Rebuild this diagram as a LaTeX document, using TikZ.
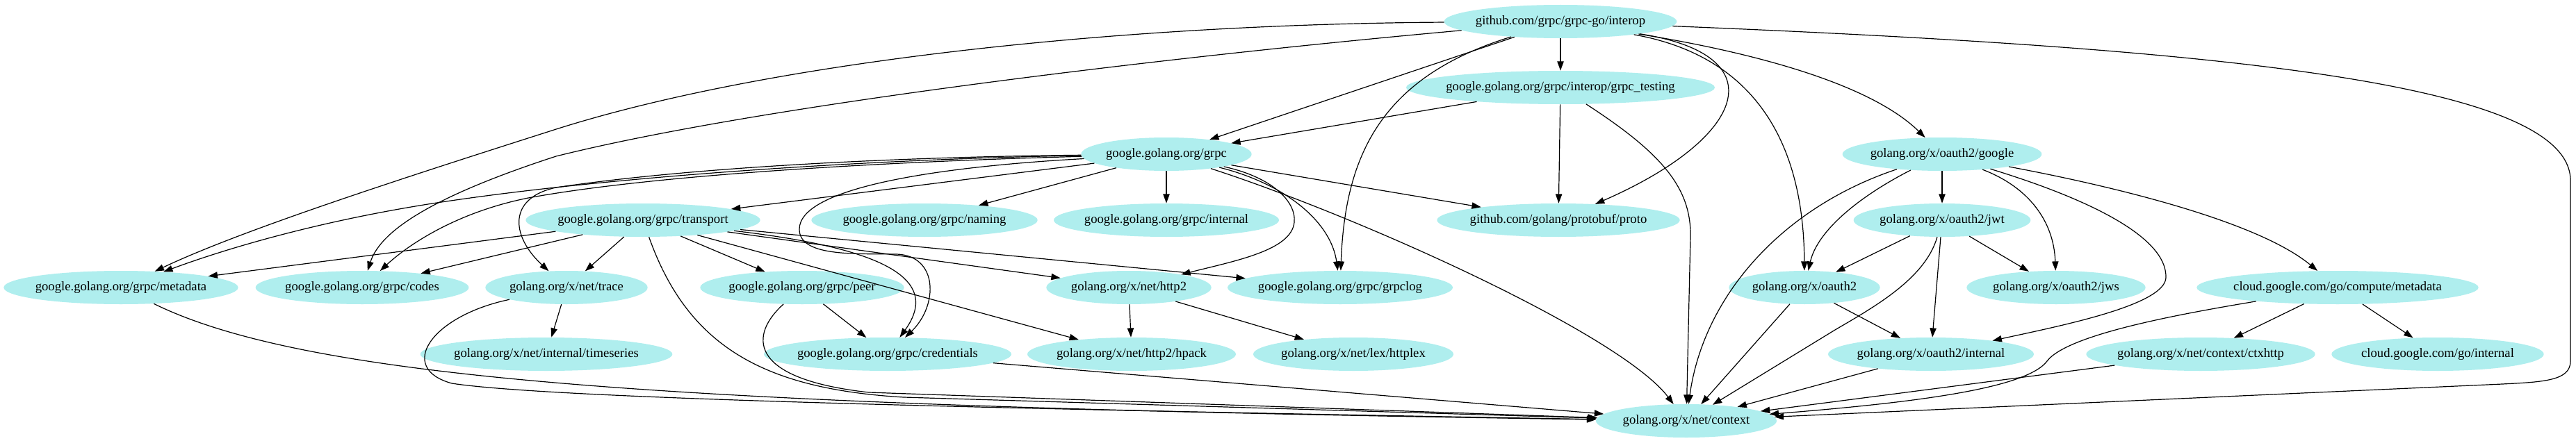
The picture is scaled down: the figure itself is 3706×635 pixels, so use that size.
\documentclass[tikz,border=0pt]{standalone}
\usepackage{fontspec}
\setmainfont{Liberation Serif}
\usetikzlibrary{shapes.geometric,arrows.meta}
\definecolor{pt}{HTML}{AFEEEE}
\begin{document}
\begin{tikzpicture}[x=0.75pt,y=-0.75pt,
  nd/.style={ellipse, fill=pt, inner xsep=-15pt, inner ysep=0pt, minimum height=36pt,
    font=\fontsize{14}{16}\selectfont},
  e/.style={-{Triangle[length=10pt,width=7pt]}, line width=0.9pt}]
\fill[white] (0,0) rectangle (3706,635);
\useasboundingbox (0,0) rectangle (3706,635);

\node[nd, minimum width=251pt] (interop) at (2245,31) {github.com/grpc/grpc-go/interop};
\node[nd, minimum width=333pt] (testing) at (2245,126) {google.golang.org/grpc/interop/grpc\_testing};
\node[nd, minimum width=184pt] (grpc) at (1678,222) {google.golang.org/grpc};
\node[nd, minimum width=215pt] (google) at (2794,222) {golang.org/x/oauth2/google};
\node[nd, minimum width=253pt] (transport) at (925,317) {google.golang.org/grpc/transport};
\node[nd, minimum width=244pt] (naming) at (1330,317) {google.golang.org/grpc/naming};
\node[nd, minimum width=243pt] (internal) at (1678,317) {google.golang.org/grpc/internal};
\node[nd, minimum width=262pt] (proto) at (2242,317) {github.com/golang/protobuf/proto};
\node[nd, minimum width=191pt] (jwt) at (2794,317) {golang.org/x/oauth2/jwt};
\node[nd, minimum width=253pt] (metadata) at (174,414) {google.golang.org/grpc/metadata};
\node[nd, minimum width=230pt] (codes) at (521,414) {google.golang.org/grpc/codes};
\node[nd, minimum width=175pt] (trace) at (815,414) {golang.org/x/net/trace};
\node[nd, minimum width=220pt] (peer) at (1154,414) {google.golang.org/grpc/peer};
\node[nd, minimum width=178pt] (http2) at (1624,414) {golang.org/x/net/http2};
\node[nd, minimum width=243pt] (grpclog) at (1928,414) {google.golang.org/grpc/grpclog};
\node[nd, minimum width=163pt] (oauth2) at (2596,414) {golang.org/x/oauth2};
\node[nd, minimum width=193pt] (jws) at (2958,414) {golang.org/x/oauth2/jws};
\node[nd, minimum width=304pt] (compute) at (3363,414) {cloud.google.com/go/compute/metadata};
\node[nd, minimum width=272pt] (timeseries) at (786,510) {golang.org/x/net/internal/timeseries};
\node[nd, minimum width=267pt] (credentials) at (1277,510) {google.golang.org/grpc/credentials};
\node[nd, minimum width=225pt] (hpack) at (1628,510) {golang.org/x/net/http2/hpack};
\node[nd, minimum width=216pt] (httplex) at (1947,510) {golang.org/x/net/lex/httplex};
\node[nd, minimum width=222pt] (oainternal) at (2778,510) {golang.org/x/oauth2/internal};
\node[nd, minimum width=247pt] (ctxhttp) at (3166,510) {golang.org/x/net/context/ctxhttp};
\node[nd, minimum width=229pt] (cloudinternal) at (3507,510) {cloud.google.com/go/internal};
\node[nd, minimum width=195pt] (context) at (2426,606) {golang.org/x/net/context};

% interop
\draw[e] (interop) -- (testing);
\draw[e] (interop) -- (grpc);
\draw[e] (interop) .. controls (1600,35) and (1100,90) .. (797,187) .. controls (600,250) and (350,330) .. (metadata);
\draw[e] (interop) .. controls (1700,80) and (1100,150) .. (800,225) .. controls (600,290) and (545,340) .. (codes);
\draw[e] (interop) .. controls (1990,110) and (1935,220) .. (grpclog);
\draw[e] (interop) .. controls (2560,80) and (2510,200) .. (proto);
\draw[e] (interop) .. controls (2520,75) and (2690,120) .. (google);
\draw[e] (interop) .. controls (2520,80) and (2595,200) .. (oauth2);
\draw[e] (interop) .. controls (3200,70) and (3698,120) .. (3698,260) -- (3698,520) .. controls (3698,548) and (3660,550) .. (3600,553) -- (context);

% grpc_testing
\draw[e] (testing) -- (grpc);
\draw[e] (testing) -- (proto);
\draw[e] (testing) .. controls (2390,220) and (2433,270) .. (2432,340) -- (context);

% grpc
\draw[e] (grpc) -- (transport);
\draw[e] (grpc) -- (naming);
\draw[e] (grpc) -- (internal);
\draw[e] (grpc) -- (proto);
\draw[e] (grpc) .. controls (1850,265) and (1915,320) .. (grpclog);
\draw[e] (grpc) .. controls (1830,255) and (1865,290) .. (1862,320) .. controls (1858,360) and (1780,375) .. (http2);
\draw[e] (grpc) .. controls (1350,240) and (1150,270) .. (1150,330) .. controls (1150,370) and (1230,365) .. (1290,366) .. controls (1350,368) and (1350,440) .. (credentials);
\draw[e] (grpc) .. controls (1300,228) and (900,250) .. (622,293) .. controls (450,320) and (320,360) .. (metadata);
\draw[e] (grpc) .. controls (1300,232) and (950,250) .. (760,285) .. controls (660,305) and (590,350) .. (codes);
\draw[e] (grpc) .. controls (1300,226) and (1000,240) .. (800,270) .. controls (730,285) and (735,340) .. (trace);
\draw[e] (grpc) .. controls (1950,310) and (2330,480) .. (context);

% transport
\draw[e] (transport) -- (metadata);
\draw[e] (transport) -- (codes);
\draw[e] (transport) -- (trace);
\draw[e] (transport) -- (peer);
\draw[e] (transport) -- (http2);
\draw[e] (transport) -- (grpclog);
\draw[e] (transport) -- (hpack);
\draw[e] (transport) .. controls (1250,355) and (1360,395) .. (credentials);
\draw[e] (transport) .. controls (990,500) and (1100,560) .. (1300,572) -- (context);

% second level
\draw[e] (metadata) .. controls (450,550) and (1000,585) .. (context);
\draw[e] (trace) -- (timeseries);
\draw[e] (trace) .. controls (620,455) and (570,530) .. (650,552) .. controls (800,575) and (1500,590) .. (context);
\draw[e] (peer) -- (credentials);
\draw[e] (peer) .. controls (1080,480) and (1070,545) .. (1250,565) -- (context);
\draw[e] (credentials) -- (context);
\draw[e] (http2) -- (hpack);
\draw[e] (http2) -- (httplex);

% oauth2/google
\draw[e] (google) -- (jwt);
\draw[e] (google) .. controls (2560,300) and (2450,430) .. (context);
\draw[e] (google) .. controls (2680,280) and (2615,330) .. (oauth2);
\draw[e] (google) .. controls (2920,270) and (2955,320) .. (jws);
\draw[e] (google) .. controls (3000,285) and (3118,340) .. (3116,400) .. controls (3114,440) and (2960,470) .. (oainternal);
\draw[e] (google) .. controls (3050,270) and (3250,320) .. (compute);

% jwt
\draw[e] (jwt) -- (oauth2);
\draw[e] (jwt) -- (jws);
\draw[e] (jwt) -- (oainternal);
\draw[e] (jwt) .. controls (2770,400) and (2700,440) .. (2640,475) -- (context);

% oauth2 etc.
\draw[e] (oauth2) -- (oainternal);
\draw[e] (oauth2) -- (context);
\draw[e] (oainternal) -- (context);
\draw[e] (compute) -- (ctxhttp);
\draw[e] (compute) -- (cloudinternal);
\draw[e] (compute) .. controls (3150,450) and (2975,480) .. (2945,520) .. controls (2915,560) and (2750,580) .. (context);
\draw[e] (ctxhttp) -- (context);
\end{tikzpicture}
\end{document}
